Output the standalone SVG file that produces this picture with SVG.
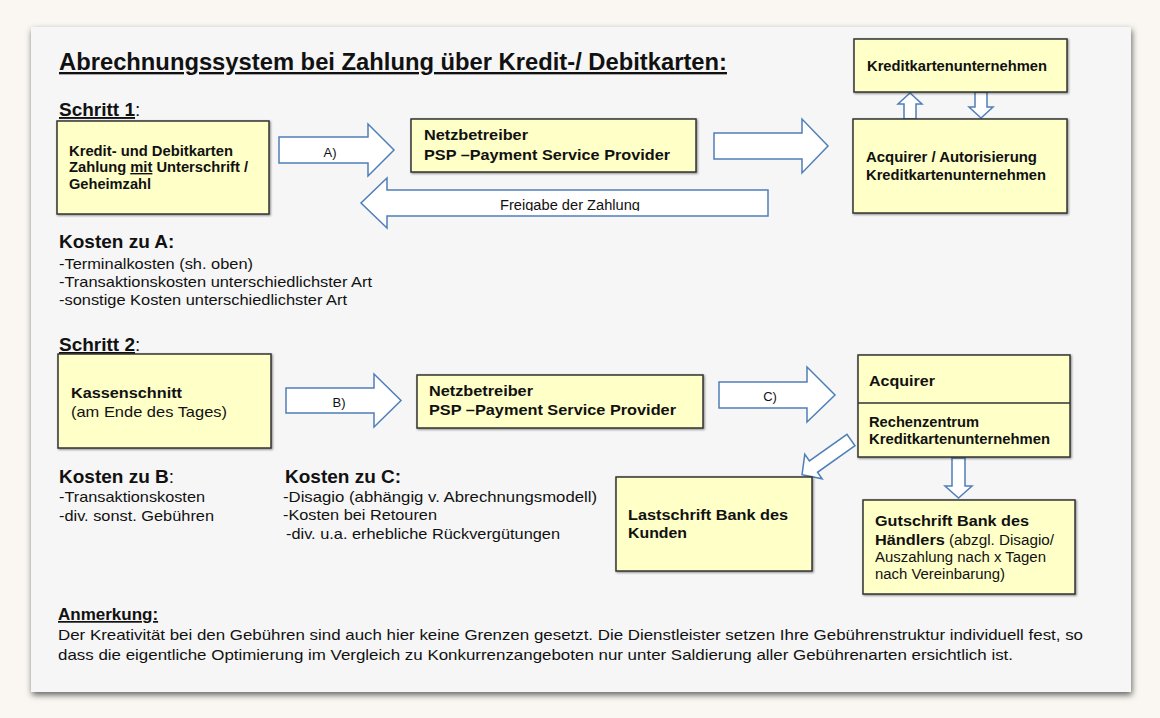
<svg xmlns="http://www.w3.org/2000/svg" width="1160" height="718" viewBox="0 0 1160 718">
<style>
text{font-family:"Liberation Sans",Arial,sans-serif;fill:#111}
.b{font-weight:bold}
.n{font-weight:normal}
.u{text-decoration:underline}
.box{fill:#ffffc8;stroke:#333;stroke-width:1.5}
.arr{fill:#fff;stroke:#4f7fb8;stroke-width:1.5;stroke-linejoin:miter}
.bx{font-size:14px;font-weight:bold}
.body{font-size:15px}
.lbl{font-size:13px;text-anchor:middle}
</style>
<defs>
<filter id="pg" x="-5%" y="-5%" width="110%" height="112%">
<feDropShadow dx="1" dy="3" stdDeviation="3" flood-color="#000" flood-opacity="0.6"/>
</filter>
<filter id="bs" x="-5%" y="-5%" width="115%" height="120%">
<feDropShadow dx="1" dy="1" stdDeviation="0.8" flood-color="#000" flood-opacity="0.45"/>
</filter>
<clipPath id="fc"><rect x="388" y="190" width="380" height="21"/></clipPath>
</defs>
<rect width="1160" height="718" fill="#faf7f2"/>
<rect x="31" y="27" width="1100" height="665" fill="#f6f6f6" filter="url(#pg)"/>

<g id="title">
<text x="59" y="70" class="b u" font-size="23.5" textLength="668" lengthAdjust="spacingAndGlyphs">Abrechnungssystem bei Zahlung über Kredit-/ Debitkarten:</text>
</g>
<g id="schritt1">
<text x="59" y="116" font-size="19"><tspan class="b u">Schritt 1</tspan>:</text>
</g>

<g id="connectors">
<path id="arrowA" class="arr" d="M279,137 H368 V124 L394,150 L368,176 V163 H279 Z"/>
<path id="arrowNetzAcq" class="arr" d="M714,133 H802 V119 L828,146 L802,173 V159 H714 Z"/>
<path id="arrowFreigabe" class="arr" d="M768,190 H387 V178 L361,203 L387,228 V216 H768 Z"/>
<path id="arrowUp" class="arr" d="M904,119 V104 H898 L910,93 L922,104 H916 V119 Z"/>
<path id="arrowDown" class="arr" d="M975,92 V107 H969 L981,118 L993,107 H987 V92 Z"/>
<path id="arrowB" class="arr" d="M286,388 H374 V374 L401,400.5 L374,427 V413 H286 Z"/>
<path id="arrowC" class="arr" d="M719,382 H807 V367 L835,395 L807,422 V408 H719 Z"/>
<path id="arrowDiag" class="arr" d="M0,-7 H46 V-15 L60,0 L46,15 V7 H0 Z" transform="translate(851,440) rotate(144.7)"/>
<path id="arrowDown2" class="arr" d="M952,458 V486 H945 L958.5,498 L972,486 H965 V458 Z"/>
<text x="330" y="157" class="lbl">A)</text>
<text x="570" y="210" font-size="14" text-anchor="middle" clip-path="url(#fc)" textLength="140" lengthAdjust="spacingAndGlyphs">Freigabe der Zahlung</text>
<text x="339" y="407" class="lbl">B)</text>
<text x="770" y="401" class="lbl">C)</text>
</g>

<g id="kartenzahlung">
<rect class="box" filter="url(#bs)" x="57" y="121" width="212" height="93"/>
<text x="69" y="156" class="bx" textLength="164" lengthAdjust="spacingAndGlyphs">Kredit- und Debitkarten</text>
<text x="69" y="172" class="bx" textLength="179" lengthAdjust="spacingAndGlyphs">Zahlung <tspan class="u">mit</tspan> Unterschrift /</text>
<text x="69" y="189" class="bx" textLength="82" lengthAdjust="spacingAndGlyphs">Geheimzahl</text>
</g>

<g id="netzbetreiber1">
<rect class="box" filter="url(#bs)" x="411" y="119" width="285" height="53"/>
<text x="424" y="140" class="bx" font-size="15" textLength="104" lengthAdjust="spacingAndGlyphs">Netzbetreiber</text>
<text x="424" y="160" class="bx" font-size="15" textLength="246" lengthAdjust="spacingAndGlyphs">PSP –Payment Service Provider</text>
</g>

<g id="kreditkartenunternehmen">
<rect class="box" filter="url(#bs)" x="854" y="39" width="213" height="53"/>
<text x="867" y="71" class="bx" font-size="13" textLength="180" lengthAdjust="spacingAndGlyphs">Kreditkartenunternehmen</text>
</g>

<g id="acquirer1">
<rect class="box" filter="url(#bs)" x="853" y="119" width="214" height="94"/>
<text x="866" y="162" class="bx" font-size="13" textLength="171" lengthAdjust="spacingAndGlyphs">Acquirer / Autorisierung</text>
<text x="866" y="180" class="bx" font-size="13" textLength="180" lengthAdjust="spacingAndGlyphs">Kreditkartenunternehmen</text>
</g>

<g id="kostenA">
<text x="59" y="248" class="b" font-size="19">Kosten zu A:</text>
<text x="59" y="269" class="body" textLength="194" lengthAdjust="spacingAndGlyphs">-Terminalkosten (sh. oben)</text>
<text x="59" y="287" class="body" textLength="313" lengthAdjust="spacingAndGlyphs">-Transaktionskosten unterschiedlichster Art</text>
<text x="59" y="305" class="body" textLength="288" lengthAdjust="spacingAndGlyphs">-sonstige Kosten unterschiedlichster Art</text>
</g>

<g id="schritt2">
<text x="59" y="351" font-size="19"><tspan class="b u">Schritt 2</tspan>:</text>
</g>

<g id="kassenschnitt">
<rect class="box" filter="url(#bs)" x="58" y="354" width="213" height="94"/>
<text x="71" y="398" class="bx" font-size="15" textLength="111" lengthAdjust="spacingAndGlyphs">Kassenschnitt</text>
<text x="71" y="417" font-size="15" textLength="156" lengthAdjust="spacingAndGlyphs">(am Ende des Tages)</text>
</g>

<g id="netzbetreiber2">
<rect class="box" filter="url(#bs)" x="417" y="375" width="286" height="53"/>
<text x="429" y="396" class="bx" font-size="15" textLength="104" lengthAdjust="spacingAndGlyphs">Netzbetreiber</text>
<text x="429" y="415" class="bx" font-size="15" textLength="247" lengthAdjust="spacingAndGlyphs">PSP –Payment Service Provider</text>
</g>

<g id="acquirer2">
<rect class="box" filter="url(#bs)" x="858" y="355" width="212" height="102"/>
<line x1="858" y1="403" x2="1070" y2="403" stroke="#333" stroke-width="1.5"/>
<text x="869" y="386" class="bx" font-size="15" textLength="66" lengthAdjust="spacingAndGlyphs">Acquirer</text>
<text x="869" y="427" class="bx" font-size="13" textLength="110" lengthAdjust="spacingAndGlyphs">Rechenzentrum</text>
<text x="869" y="444" class="bx" font-size="13" textLength="181" lengthAdjust="spacingAndGlyphs">Kreditkartenunternehmen</text>
</g>

<g id="lastschrift">
<rect class="box" filter="url(#bs)" x="616" y="477" width="196" height="94"/>
<text x="628" y="520" class="bx" font-size="15" textLength="160" lengthAdjust="spacingAndGlyphs">Lastschrift Bank des</text>
<text x="628" y="538" class="bx" font-size="15" textLength="59" lengthAdjust="spacingAndGlyphs">Kunden</text>
</g>

<g id="gutschrift">
<rect class="box" filter="url(#bs)" x="863" y="500" width="212" height="94"/>
<text x="875" y="526" class="bx" font-size="15" textLength="154" lengthAdjust="spacingAndGlyphs">Gutschrift Bank des</text>
<text x="875" y="545" font-size="14" textLength="179" lengthAdjust="spacingAndGlyphs"><tspan class="b" font-size="15">Händlers</tspan> (abzgl. Disagio/</text>
<text x="875" y="562" font-size="14" textLength="171" lengthAdjust="spacingAndGlyphs">Auszahlung nach x Tagen</text>
<text x="875" y="579" font-size="14" textLength="130" lengthAdjust="spacingAndGlyphs">nach Vereinbarung)</text>
</g>

<g id="kostenB">
<text x="59" y="483" font-size="19"><tspan class="b">Kosten zu B</tspan>:</text>
<text x="59" y="502" class="body" textLength="146" lengthAdjust="spacingAndGlyphs">-Transaktionskosten</text>
<text x="59" y="521" class="body" textLength="155" lengthAdjust="spacingAndGlyphs">-div. sonst. Gebühren</text>
</g>

<g id="kostenC">
<text x="285" y="483" class="b" font-size="19">Kosten zu C:</text>
<text x="283" y="502" class="body" textLength="314" lengthAdjust="spacingAndGlyphs">-Disagio (abhängig v. Abrechnungsmodell)</text>
<text x="283" y="520" class="body" textLength="154" lengthAdjust="spacingAndGlyphs">-Kosten bei Retouren</text>
<text x="286" y="539" class="body" textLength="274" lengthAdjust="spacingAndGlyphs">-div. u.a. erhebliche Rückvergütungen</text>
</g>

<g id="anmerkung">
<text x="58" y="620" class="b u" font-size="17">Anmerkung:</text>
<text x="58" y="640" font-size="14.5" textLength="1025" lengthAdjust="spacingAndGlyphs">Der Kreativität bei den Gebühren sind auch hier keine Grenzen gesetzt. Die Dienstleister setzen Ihre Gebührenstruktur individuell fest, so</text>
<text x="58" y="660" font-size="14.5" textLength="955" lengthAdjust="spacingAndGlyphs">dass die eigentliche Optimierung im Vergleich zu Konkurrenzangeboten nur unter Saldierung aller Gebührenarten ersichtlich ist.</text>
</g>
</svg>
